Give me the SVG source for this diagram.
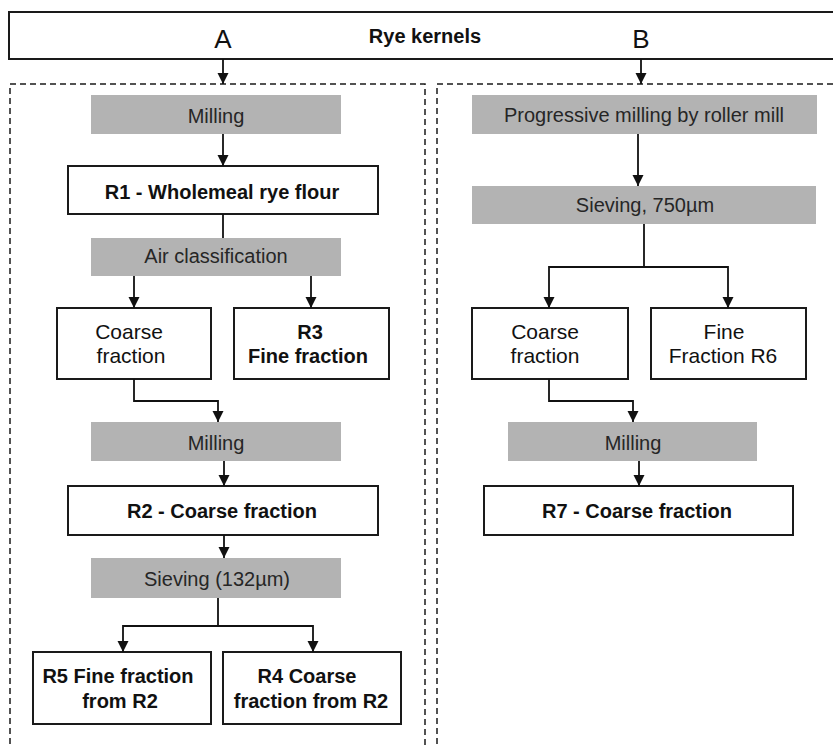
<svg xmlns="http://www.w3.org/2000/svg" width="833" height="745" viewBox="0 0 833 745">
<defs>
<marker id="ah" markerUnits="userSpaceOnUse" markerWidth="12" markerHeight="12" refX="11" refY="6" orient="auto">
<path d="M0,0.5 L11,6 L0,11.5 z" fill="#111"/>
</marker>
<style>
.box{fill:#fff;stroke:#1a1a1a;stroke-width:2}
.step{fill:#b3b3b3;stroke:none}
.dash{fill:none;stroke:#1a1a1a;stroke-width:1.5;stroke-dasharray:6 4}
.con{fill:none;stroke:#111;stroke-width:1.8}
.arr{marker-end:url(#ah)}
text{font-family:"Liberation Sans",Arial,sans-serif;text-anchor:middle}
.g{fill:#262626;font-size:20px}
.b{fill:#111;font-size:20px;font-weight:bold}
.r{fill:#111;font-size:21px}
.hd{fill:#111;font-size:26px}
</style>
</defs>
<rect width="833" height="745" fill="#fff"/>
<g id="header">
<rect class="box" x="9" y="12" width="830" height="47"/>
<text class="hd" x="223" y="48">A</text>
<text class="b" x="425" y="43">Rye kernels</text>
<text class="hd" x="641" y="48">B</text>
</g>
<g id="panelA"><rect class="dash" x="10" y="84" width="415" height="680"/></g>
<g id="panelB"><rect class="dash" x="437" y="84" width="410" height="680"/></g>

<g id="a_milling1"><rect class="step" x="91" y="95" width="250" height="39"/><text class="g" x="216" y="123">Milling</text></g>
<g id="r1"><rect class="box" x="68" y="166" width="310" height="48"/><text class="b" x="222" y="199" font-size="21">R1  - Wholemeal rye flour</text></g>
<g id="a_air"><rect class="step" x="91" y="238" width="250" height="38"/><text class="g" x="216" y="263" font-size="21">Air classification</text></g>
<g id="a_coarse"><rect class="box" x="57" y="308" width="154" height="71"/><text class="r" x="129" y="339">Coarse</text><text class="r" x="131" y="363">fraction</text></g>
<g id="r3"><rect class="box" x="234" y="308" width="155" height="71"/><text class="b" x="310" y="339">R3</text><text class="b" x="308" y="363">Fine fraction</text></g>
<g id="a_milling2"><rect class="step" x="91" y="422" width="250" height="39"/><text class="g" x="216" y="450">Milling</text></g>
<g id="r2"><rect class="box" x="68" y="486" width="310" height="49"/><text class="b" x="222" y="518">R2  - Coarse fraction</text></g>
<g id="a_sieving"><rect class="step" x="91" y="558" width="250" height="40"/><text class="g" x="217" y="586">Sieving  (132µm)</text></g>
<g id="r5"><rect class="box" x="33" y="652" width="178" height="72"/><text class="b" x="118" y="683">R5 Fine fraction</text><text class="b" x="120" y="708">from R2</text></g>
<g id="r4"><rect class="box" x="223" y="652" width="178" height="72"/><text class="b" x="307" y="683">R4 Coarse</text><text class="b" x="311" y="708">fraction from R2</text></g>

<g id="b_progressive"><rect class="step" x="472" y="95" width="345" height="39"/><text class="g" x="644" y="122">Progressive  milling by roller mill</text></g>
<g id="b_sieving"><rect class="step" x="472" y="186" width="344" height="38"/><text class="g" x="645" y="212">Sieving,  750µm</text></g>
<g id="b_coarse"><rect class="box" x="472" y="308" width="156" height="71"/><text class="r" x="545" y="339">Coarse</text><text class="r" x="545" y="363">fraction</text></g>
<g id="r6"><rect class="box" x="651" y="308" width="155" height="71"/><text class="r" x="724" y="339">Fine</text><text class="r" x="723" y="363">Fraction R6</text></g>
<g id="b_milling"><rect class="step" x="508" y="422" width="249" height="39"/><text class="g" x="633" y="450">Milling</text></g>
<g id="r7"><rect class="box" x="484" y="486" width="309" height="49"/><text class="b" x="637" y="518">R7  - Coarse fraction</text></g>

<g id="connectors">
<path class="con arr" d="M223,59 V84"/>
<path class="con arr" d="M641,59 V84"/>
<path class="con arr" d="M223,134 V166"/>
<path class="con" d="M223,214 V238"/>
<path class="con arr" d="M134,276 V308"/>
<path class="con arr" d="M311,276 V308"/>
<path class="con arr" d="M134,379 V401 H218 V422"/>
<path class="con arr" d="M224,461 V486"/>
<path class="con arr" d="M224,535 V558"/>
<path class="con" d="M218,598 V626"/>
<path class="con arr" d="M218,626 H123 V652"/>
<path class="con arr" d="M218,626 H313 V652"/>
<path class="con arr" d="M638,134 V186"/>
<path class="con" d="M644,224 V267"/>
<path class="con arr" d="M644,267 H549 V308"/>
<path class="con arr" d="M644,267 H728 V308"/>
<path class="con arr" d="M549,379 V401 H633 V422"/>
<path class="con arr" d="M639,461 V486"/>
</g>
</svg>
